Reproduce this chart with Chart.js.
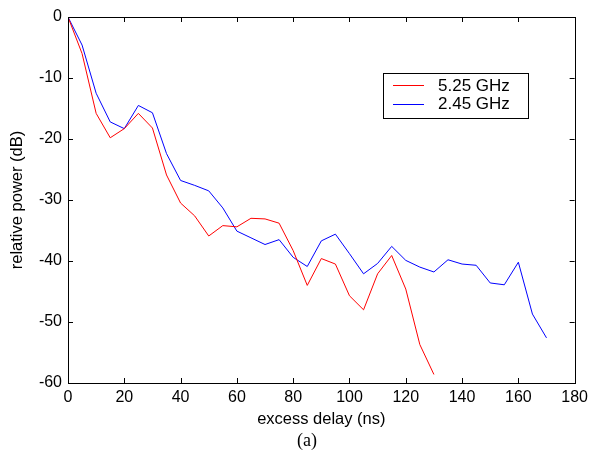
<!DOCTYPE html>
<html><head><meta charset="utf-8">
<script src="https://cdn.jsdelivr.net/npm/chart.js@4/dist/chart.umd.min.js"></script>
<style>html,body{margin:0;padding:0;background:#fff}#wrap{width:593px;height:457px;position:relative}</style>
</head><body><div id="wrap"><canvas id="c" width="593" height="457"></canvas></div>
<script>
const delays = [0,5,10,15,20,25,30,35,40,45,50,55,60,65,70,75,80,85,90,95,100,105,110,115,120,125,130,135,140,145,150,155,160,165,170];
const power525 = [0,-6,-15.8,-19.8,-18.3,-15.8,-18.2,-25.9,-30.5,-32.6,-35.9,-34.2,-34.4,-33.0,-33.1,-33.8,-38.3,-44.0,-39.6,-40.5,-45.7,-48.0,-42.1,-39.1,-44.6,-53.7,-58.6];
const power245 = [0,-4.6,-12.5,-17.2,-18.3,-14.5,-15.7,-22.4,-26.8,-27.6,-28.5,-31.3,-35.1,-36.2,-37.3,-36.5,-39.4,-40.9,-36.7,-35.6,-38.8,-42.1,-40.4,-37.6,-39.9,-41.0,-41.8,-39.8,-40.5,-40.7,-43.6,-43.9,-40.2,-48.7,-52.6];
const seriesLabels = ['5.25 GHz','2.45 GHz'];
const xTicks = {min:0,max:180,step:20};
const yTicks = {min:-60,max:0,step:10};
const xTitle = 'excess delay (ns)';
const yTitle = 'relative power (dB)';
const caption = '(a)';

const SANS = '"Liberation Sans", Arial, sans-serif';
const toPts = (vals) => vals.map((v,i)=>({x:delays[i],y:v}));

const framePlugin = {
  id:'frame',
  afterDraw(chart){
    const {ctx, chartArea:a, scales:{x,y}} = chart;
    ctx.save();
    ctx.strokeStyle = '#000'; ctx.lineWidth = 1;
    ctx.strokeRect(Math.round(a.left)+0.5, Math.round(a.top)+0.5, Math.round(a.right-a.left), Math.round(a.bottom-a.top));
    const tl = 5;
    ctx.beginPath();
    for (let v=xTicks.min; v<=xTicks.max; v+=xTicks.step){
      const px = Math.round(x.getPixelForValue(v))+0.5;
      ctx.moveTo(px,a.bottom); ctx.lineTo(px,a.bottom-tl);
      ctx.moveTo(px,a.top); ctx.lineTo(px,a.top+tl);
    }
    for (let v=yTicks.min; v<=yTicks.max; v+=yTicks.step){
      const py = Math.round(y.getPixelForValue(v))+0.5;
      ctx.moveTo(a.left,py); ctx.lineTo(a.left+tl,py);
      ctx.moveTo(a.right,py); ctx.lineTo(a.right-tl,py);
    }
    ctx.stroke();
    // legend
    const lx=383, ly=73, lw=145, lh=45;
    ctx.fillStyle='#fff'; ctx.fillRect(lx,ly,lw,lh);
    ctx.strokeStyle='#000'; ctx.strokeRect(lx+0.5,ly+0.5,lw,lh);
    ctx.font='17px '+SANS;
    ctx.textBaseline='middle'; ctx.textAlign='left';
    chart.data.datasets.forEach((ds,i)=>{
      const yy = ly+12+i*18.5;
      ctx.strokeStyle=ds.borderColor; ctx.lineWidth=1;
      ctx.beginPath(); ctx.moveTo(393,Math.round(yy)+0.5); ctx.lineTo(424,Math.round(yy)+0.5); ctx.stroke();
      ctx.fillStyle='#000'; ctx.fillText(ds.label, 438, yy+1);
    });
    // caption
    ctx.font='18px "Liberation Serif", "Times New Roman", serif';
    ctx.textAlign='center'; ctx.fillStyle='#000';
    ctx.fillText(caption, 307, 441);
    ctx.restore();
  }
};

new Chart(document.getElementById('c'), {
  type:'line',
  data:{datasets:[
    {label:seriesLabels[0], data:toPts(power525), borderColor:'#ff0000', borderWidth:1, pointRadius:0, tension:0, fill:false},
    {label:seriesLabels[1], data:toPts(power245), borderColor:'#0000ff', borderWidth:1, pointRadius:0, tension:0, fill:false}
  ]},
  options:{
    responsive:false, animation:false, devicePixelRatio:1,
    layout:{padding:{left:0,right:18,top:17,bottom:28}},
    plugins:{legend:{display:false}, tooltip:{enabled:false}},
    scales:{
      x:{type:'linear', min:xTicks.min, max:xTicks.max,
        ticks:{stepSize:xTicks.step, color:'#000', padding:5, font:{family:SANS, size:16}, maxRotation:0},
        grid:{display:false, drawTicks:false}, border:{display:false},
        title:{display:true, text:xTitle, color:'#000', padding:{top:0,bottom:0}, font:{family:SANS, size:16.5}},
        afterFit(s){ s.height = 46; }
      },
      y:{type:'linear', min:yTicks.min, max:yTicks.max,
        ticks:{stepSize:yTicks.step, color:'#000', padding:6, font:{family:SANS, size:16}},
        grid:{display:false, drawTicks:false}, border:{display:false},
        title:{display:true, text:yTitle, color:'#000', padding:{top:8,bottom:0}, font:{family:SANS, size:16.5}},
        afterFit(s){ s.width = 68; }
      }
    }
  },
  plugins:[framePlugin]
});
</script></body></html>
